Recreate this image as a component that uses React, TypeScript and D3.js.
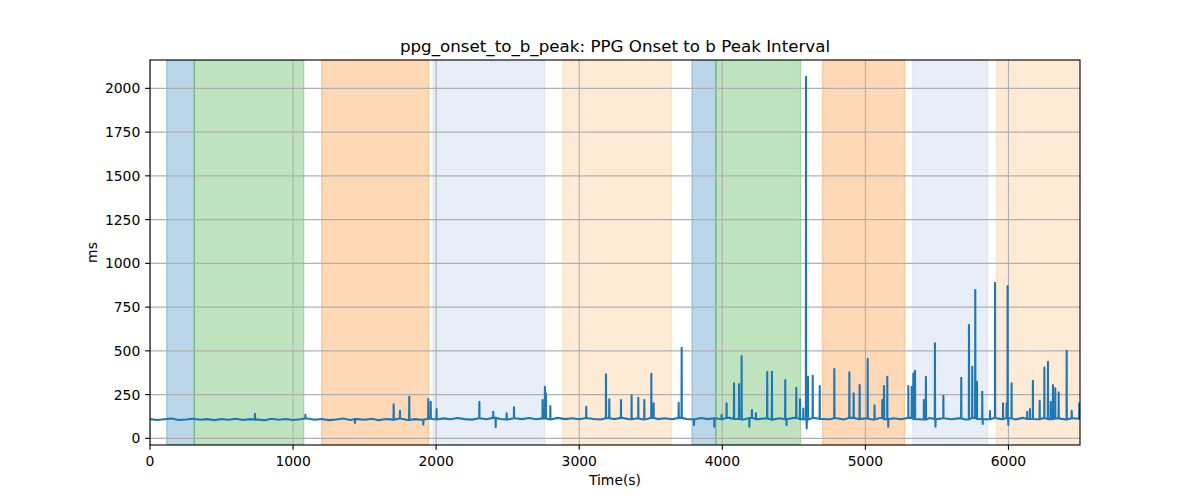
import * as d3 from "d3";

// phase spans (seconds)
const spanStart = [117, 310, 1200, 1980, 2886, 3788, 3955, 4701, 5332, 5917];
const spanEnd = [310, 1074, 1947, 2758, 3645, 3955, 4547, 5274, 5854, 6560];
const spanColor = ["#1f77b4", "#2ca02c", "#ff7f0e", "#aec7e8", "#ffbb78", "#1f77b4", "#2ca02c", "#ff7f0e", "#aec7e8", "#ffbb78"];

// baseline interval, one reading every 50 s from 0 to 6500
const baseStep = 50;
const baseline = [
  110, 105, 109, 113, 105, 108, 112, 106, 110, 104,
  111, 106, 112, 105, 110, 107, 104, 112, 106, 111,
  105, 109, 113, 106, 111, 104, 108, 113, 105, 110,
  106, 112, 104, 111, 107, 113, 105, 110, 106, 112,
  108, 114, 109, 116, 110, 107, 115, 109, 117, 111,
  108, 115, 110, 116, 109, 114, 108, 117, 110, 115,
  109, 116, 111, 108, 115, 110, 117, 109, 114, 108,
  116, 110, 115, 109, 117, 111, 108, 116, 110, 115,
  109, 117, 111, 108, 116, 110, 114, 107, 115, 109,
  117, 110, 108, 116, 111, 109, 115, 108, 117, 110,
  114, 108, 116, 110, 115, 109, 117, 111, 108, 116,
  110, 115, 109, 114, 108, 117, 111, 109, 116, 110,
  115, 108, 117, 111, 109, 116, 110, 114, 108, 115,
  112,
];

// outliers: [time, ms]
const spikes: [number, number][] = [
  [734, 140], [1086, 135], [1433, 88], [1703, 194], [1747, 158], [1812, 238], [1910, 80],
  [1945, 225], [1962, 209], [2003, 167], [2302, 209], [2399, 152], [2416, 63], [2493, 143],
  [2544, 177], [2744, 219], [2760, 295], [2767, 257], [2798, 185], [3049, 181], [3187, 366],
  [3210, 223], [3292, 219], [3366, 246], [3413, 232], [3455, 219], [3504, 369], [3520, 200],
  [3695, 203], [3716, 518], [3802, 76], [3944, 66], [3995, 133], [4030, 200], [4082, 314],
  [4117, 310], [4135, 470], [4189, 66], [4207, 162], [4235, 143], [4314, 379], [4347, 381],
  [4440, 333], [4449, 76], [4517, 289], [4543, 223], [4566, 171], [4585, 2066], [4590, 57],
  [4599, 352], [4632, 358], [4681, 299], [4783, 396], [4888, 377], [4918, 257], [4960, 305],
  [5016, 455], [5064, 189], [5118, 219], [5130, 299], [5153, 352], [5160, 66], [5300, 299],
  [5324, 295], [5335, 371], [5347, 386], [5409, 219], [5423, 352], [5486, 543], [5490, 67],
  [5545, 243], [5670, 346], [5724, 647], [5747, 409], [5768, 847], [5780, 323], [5817, 266],
  [5820, 82], [5871, 156], [5906, 889], [5962, 200], [5987, 200], [5994, 870], [5999, 76],
  [6022, 314], [6131, 152], [6150, 167], [6171, 329], [6218, 215], [6251, 404], [6276, 438],
  [6295, 209], [6311, 305], [6327, 286], [6351, 263], [6407, 501], [6442, 158], [6495, 200],
];

const xTicks = [0, 1000, 2000, 3000, 4000, 5000, 6000];
const yTicks = [0, 250, 500, 750, 1000, 1250, 1500, 1750, 2000];

const W = 1200;
const H = 500;
const left = 150;
const right = 1080;
const top = 60;
const bottom = 445;
const font = "DejaVu Sans, sans-serif";
const pt = 100 / 72;

export default function App() {
  const x = d3.scaleLinear().domain([0, 6500]).range([left, right]);
  const y = d3.scaleLinear().domain([-38, 2162]).range([bottom, top]);

  const baseAt = (t: number) => baseline[Math.min(baseline.length - 1, Math.round(t / baseStep))];

  const pts: [number, number][] = baseline.map((v, i) => [i * baseStep, v]);
  spikes.forEach(([t, v]) => {
    const b = baseAt(t);
    pts.push([t - 1, b], [t, v], [t + 1, b]);
  });
  pts.sort((a, b) => a[0] - b[0]);

  const line = d3.line<[number, number]>()
    .x((d) => x(d[0]))
    .y((d) => y(d[1]));

  return (
    <div style={{ position: "absolute", left: 0, top: 0 }}>
      <svg width={W} height={H} viewBox={`0 0 ${W} ${H}`} style={{ display: "block", background: "#fff" }}>
        <defs>
          <clipPath id="plot">
            <rect x={left} y={top} width={right - left} height={bottom - top} />
          </clipPath>
        </defs>
        <g clipPath="url(#plot)">
          {spanStart.map((s, i) => (
            <rect
              key={i}
              x={x(s)}
              y={top}
              width={x(spanEnd[i]) - x(s)}
              height={bottom - top}
              fill={spanColor[i]}
              fillOpacity={0.3}
              stroke={spanColor[i]}
              strokeOpacity={0.3}
              strokeWidth={pt}
            />
          ))}
          {xTicks.map((t) => (
            <line key={"gx" + t} x1={x(t)} x2={x(t)} y1={top} y2={bottom} stroke="#b0b0b0" strokeWidth={0.8 * pt} />
          ))}
          {yTicks.map((t) => (
            <line key={"gy" + t} x1={left} x2={right} y1={y(t)} y2={y(t)} stroke="#b0b0b0" strokeWidth={0.8 * pt} />
          ))}
          <path d={line(pts) ?? ""} fill="none" stroke="#1f77b4" strokeWidth={1.5 * pt} strokeLinejoin="round" strokeLinecap="butt" />
        </g>
        <rect x={left} y={top} width={right - left} height={bottom - top} fill="none" stroke="#000" strokeWidth={0.8 * pt} />
        {xTicks.map((t) => (
          <g key={"tx" + t}>
            <line x1={x(t)} x2={x(t)} y1={bottom} y2={bottom + 3.5 * pt} stroke="#000" strokeWidth={0.8 * pt} />
            <text x={x(t)} y={466} textAnchor="middle" fontSize={13.9} fontFamily={font} fill="#000">{t}</text>
          </g>
        ))}
        {yTicks.map((t) => (
          <g key={"ty" + t}>
            <line x1={left - 3.5 * pt} x2={left} y1={y(t)} y2={y(t)} stroke="#000" strokeWidth={0.8 * pt} />
            <text x={left - 7 * pt} y={y(t) + 5} textAnchor="end" fontSize={13.9} fontFamily={font} fill="#000">{t}</text>
          </g>
        ))}
        <text x={(left + right) / 2} y={51.5} textAnchor="middle" fontSize={16.7} fontFamily={font} fill="#000">
          ppg_onset_to_b_peak: PPG Onset to b Peak Interval
        </text>
        <text x={(left + right) / 2} y={485} textAnchor="middle" fontSize={13.9} fontFamily={font} fill="#000">Time(s)</text>
        <text
          transform={`translate(97, ${(top + bottom) / 2}) rotate(-90)`}
          textAnchor="middle"
          fontSize={13.9}
          fontFamily={font}
          fill="#000"
        >
          ms
        </text>
      </svg>
    </div>
  );
}
